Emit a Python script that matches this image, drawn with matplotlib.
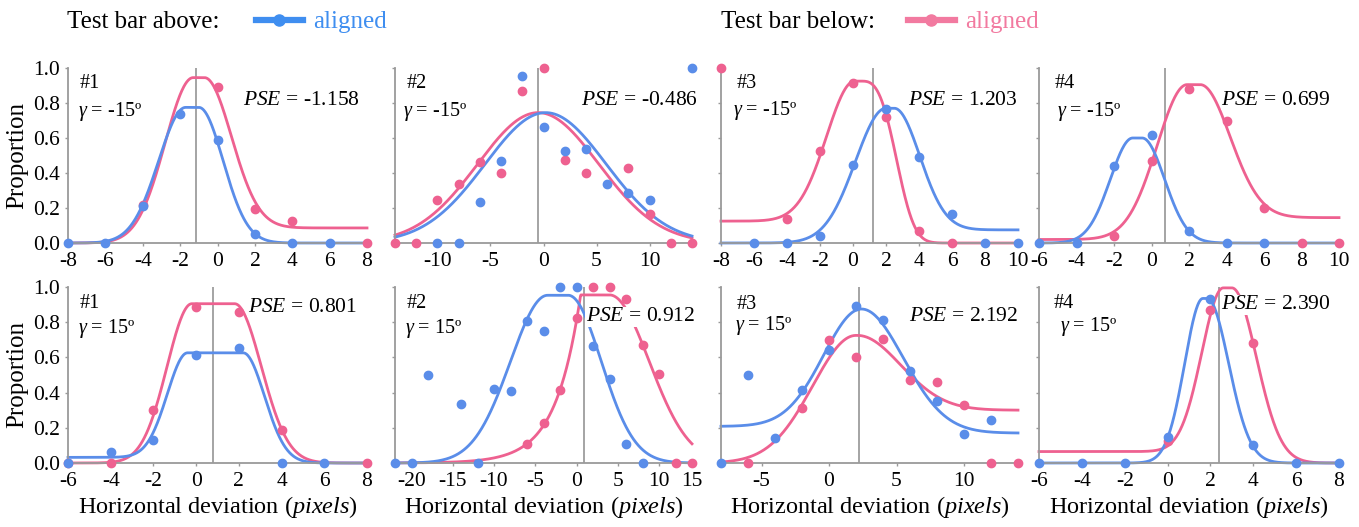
import numpy as np
import matplotlib
matplotlib.use("Agg")
import matplotlib.pyplot as plt
from matplotlib.lines import Line2D

plt.rcParams['font.family'] = ['Liberation Serif', 'DejaVu Serif']
plt.rcParams['mathtext.fontset'] = 'custom'
plt.rcParams['mathtext.rm'] = 'Liberation Serif'
plt.rcParams['mathtext.it'] = 'Liberation Serif:italic'
plt.rcParams['axes.unicode_minus'] = False

nan = np.nan
BLUE = '#5A8DE9'
PINK = '#EE6190'
LEG_BLUE = '#3F8EF0'
LEG_PINK = '#F27AA0'

# ---------------- data ----------------
panel_ids = ['#1', '#2', '#3', '#4', '#1', '#2', '#3', '#4']
gamma_labels = ['-15º'] * 4 + ['15º'] * 4
pse_values = [-1.158, -0.486, 1.203, 0.699, 0.801, 0.912, 2.192, 2.390]

x_t1 = [-8, -6, -4, -2, 0, 2, 4, 6, 8]
blue_t1 = [0, 0, 0.21, 0.74, 0.59, 0.053, 0, 0, nan]
pink_t1 = [nan, nan, 0.215, nan, 0.89, 0.195, 0.128, nan, 0]

x_t2 = [-14, -12, -10, -8, -6, -4, -2, 0, 2, 4, 6, 8, 10, 12, 14]
blue_t2 = [nan, nan, 0, 0, 0.235, 0.468, 0.956, 0.665, 0.526, 0.535, 0.335, 0.283, 0.245, nan, 1.0]
pink_t2 = [0, 0, 0.245, 0.335, 0.463, 0.40, 0.87, 1.0, 0.474, 0.40, nan, 0.43, 0.168, 0, 0]

x_t3 = [-8, -6, -4, -2, 0, 2, 4, 6, 8, 10]
blue_t3 = [nan, 0, 0, 0.042, 0.448, 0.765, 0.494, 0.167, 0, 0]
pink_t3 = [1.0, nan, 0.138, 0.523, 0.913, 0.72, 0.071, 0, nan, nan]

x_t4 = [-6, -4, -2, 0, 2, 4, 6, 8, 10]
blue_t4 = [0, 0, 0.44, 0.615, 0.071, 0, 0, nan, nan]
pink_t4 = [nan, nan, 0.042, 0.471, 0.879, 0.70, 0.20, 0, 0]

x_b1 = [-6, -4, -2, 0, 2, 4, 6, 8]
blue_b1 = [0, 0.062, 0.132, 0.613, 0.655, 0, 0, nan]
pink_b1 = [0, 0, 0.30, 0.887, 0.858, 0.19, nan, 0]

x_b2 = [-22, -20, -18, -16, -14, -12, -10, -8, -6, -4, -2, 0, 2, 4, 6, 8, 10, 12, 14]
blue_b2 = [0, 0, 0.502, nan, 0.337, 0, 0.419, 0.407, 0.807, 0.748, 1.0, 1.0, 0.667, 0.477, 0.106, 0, nan, nan, nan]
pink_b2 = [nan, nan, nan, nan, nan, nan, nan, nan, 0.11, 0.227, 0.413, 0.826, 1.0, 1.0, 0.934, 0.669, 0.504, 0, 0]

x_b3 = [-8, -6, -4, -2, 0, 2, 4, 6, 8, 10, 12, 14]
blue_b3 = [0, 0.498, 0.144, 0.413, 0.644, 0.89, 0.81, 0.523, 0.35, 0.167, 0.246, nan]
pink_b3 = [nan, 0, nan, 0.3125, 0.70, 0.602, 0.706, 0.47, 0.46, 0.331, 0, 0]

x_b4 = [-6, -4, -2, 0, 2, 4, 6, 8]
blue_b4 = [0, 0, 0, 0.148, 0.934, 0.10, 0, 0]
pink_b4 = [nan, nan, nan, 0.125, 0.867, 0.682, nan, nan]

# fitted-curve parameters: (left base, right base, peak, plateau start, plateau end,
#                           left width, right width, left exponent, right exponent)
fit_blue = [
    (0, 0, 0.775, -1.7, -1.0, 1.45, 1.3, 2, 2),
    (0, 0, 0.745, 0.2, 0.2, 5.7, 5.7, 2, 2),
    (0, 0.075, 0.77, 2.0, 2.5, 1.85, 1.55, 2, 2),
    (0, 0, 0.60, -1.0, -0.5, 1.2, 1.2, 2, 2),
    (0.032, 0, 0.626, -0.4, 2.2, 0.95, 1.0, 2, 2),
    (0, 0, 0.953, -3.5, -1.0, 4.5, 4.0, 2, 2),
    (0.208, 0.17, 0.875, 2.4, 2.4, 2.8, 3.1, 2, 2),
    (0, 0, 0.935, 1.65, 1.85, 0.85, 1.0, 2, 2),
]
fit_pink = [
    (0, 0.086, 0.945, -1.3, -0.7, 1.5, 1.45, 2, 2),
    (0, 0, 0.745, -0.5, -0.5, 5.7, 5.7, 2, 2),
    (0.125, 0, 0.925, 0.1, 0.5, 1.7, 1.95, 2, 3),
    (0.02, 0.145, 0.905, 1.9, 2.6, 1.6, 1.6, 2, 2),
    (0, 0, 0.905, -0.2, 1.8, 1.16, 1.25, 2, 2),
    (0, 0, 0.955, 0.5, 4.0, 1.5, 4.8, 1, 2),
    (0, 0.30, 0.725, 2.0, 2.1, 3.2, 3.2, 2, 2),
    (0.065, 0, 0.995, 2.6, 3.0, 1.0, 1.14, 2, 2),
]

xlims = [(-8, 8), (-14, 14), (-8, 10), (-6, 10), (-6, 8), (-22, 14), (-8, 14), (-6, 8)]
xticks = [list(range(-8, 9, 2)), [-10, -5, 0, 5, 10], list(range(-8, 11, 2)), list(range(-6, 11, 2)),
          list(range(-6, 9, 2)), [-20, -15, -10, -5, 0, 5, 10, 14], [-5, 0, 5, 10], list(range(-6, 9, 2))]
xticklabels = [None, None, None, None, None, ['-20', '-15', '-10', '-5', '0', '5', '10', '15'], None, None]

xs = [x_t1, x_t2, x_t3, x_t4, x_b1, x_b2, x_b3, x_b4]
blues = [blue_t1, blue_t2, blue_t3, blue_t4, blue_b1, blue_b2, blue_b3, blue_b4]
pinks = [pink_t1, pink_t2, pink_t3, pink_t4, pink_b1, pink_b2, pink_b3, pink_b4]

# text positions (axes fraction)
id_pos = [(0.04, 0.909), (0.04, 0.909), (0.054, 0.909), (0.053, 0.909),
          (0.04, 0.909), (0.04, 0.909), (0.054, 0.898), (0.05, 0.909)]
gam_pos = [(0.033, 0.749), (0.027, 0.749), (0.04, 0.76), (0.06, 0.749),
           (0.033, 0.767), (0.034, 0.767), (0.047, 0.784), (0.07, 0.773)]
pse_pos = [(0.977, 0.817), (1.02, 0.817), (1.0, 0.817), (0.973, 0.817),
           (0.967, 0.886), (1.01, 0.83), (1.0, 0.83), (0.973, 0.898)]


def fitted_curve(x, L, R, P, c1, c2, s1, s2, p1, p2):
    y = np.full_like(x, P, dtype=float)
    lm = x < c1
    rm = x > c2
    y[lm] = L + (P - L) * np.exp(-0.5 * (np.abs(c1 - x[lm]) / s1) ** p1)
    y[rm] = R + (P - R) * np.exp(-0.5 * (np.abs(x[rm] - c2) / s2) ** p2)
    return y


W, H = 1359, 527
fig = plt.figure(figsize=(W / 100, H / 100), dpi=100)
lefts = [68, 395, 721, 1039]
widths = [299, 297, 297, 300]
rows = [(68, 243), (287, 463)]

GRAY = '#9a9a9a'
for i in range(8):
    r, c = divmod(i, 4)
    y0, y1 = rows[r]
    ax = fig.add_axes([lefts[c] / W, 1 - y1 / H, widths[c] / W, (y1 - y0) / H])
    xmin, xmax = xlims[i]
    ax.set_xlim(xmin, xmax)
    ax.set_ylim(0, 1)
    for s in ['top', 'right']:
        ax.spines[s].set_visible(False)
    for s in ['left', 'bottom']:
        ax.spines[s].set_color(GRAY)
        ax.spines[s].set_linewidth(1.3)
    ax.set_xticks(xticks[i])
    if xticklabels[i] is not None:
        ax.set_xticklabels(xticklabels[i])
    ax.set_yticks([0, 0.2, 0.4, 0.6, 0.8, 1.0])
    if c == 0:
        ax.set_yticklabels(['%.1f' % v for v in [0, 0.2, 0.4, 0.6, 0.8, 1.0]])
        ax.set_ylabel('Proportion', fontsize=18, labelpad=4)
    else:
        ax.set_yticklabels([])
    ax.tick_params(axis='both', length=2.5, width=1, color=GRAY, labelsize=15.5, pad=3)
    ax.tick_params(axis='x', pad=4)

    ax.axvline(pse_values[i], color='#8c8c8c', lw=1.1, zorder=1)

    xx = np.linspace(xmin, xmax, 600)
    ax.plot(xx, fitted_curve(xx, *fit_pink[i]), color=PINK, lw=2.0, zorder=2, clip_on=False)
    ax.plot(xx, fitted_curve(xx, *fit_blue[i]), color=BLUE, lw=2.0, zorder=2, clip_on=False)
    ax.plot(xs[i], pinks[i], 'o', color=PINK, ms=6, zorder=3, clip_on=False, linestyle='none')
    ax.plot(xs[i], blues[i], 'o', color=BLUE, ms=6, zorder=4, clip_on=False, linestyle='none')

    ax.text(*id_pos[i], panel_ids[i], transform=ax.transAxes, fontsize=14.5,
            ha='left', va='center', zorder=6)
    ax.text(*gam_pos[i], r'$\mathit{γ}$ = ' + gamma_labels[i], transform=ax.transAxes,
            fontsize=14.5, ha='left', va='center', zorder=6)
    ax.text(*pse_pos[i], r'$\mathit{PSE}$ = %.3f' % pse_values[i], transform=ax.transAxes,
            fontsize=15.5, ha='right', va='center', zorder=6,
            bbox=dict(facecolor='white', edgecolor='none', pad=0.5))
    if r == 1:
        ax.set_xlabel(r'Horizontal deviation ($\mathit{pixels}$)', fontsize=17.5, labelpad=2)

# legends
ly = 1 - 22 / H
fig.text(67 / W, ly, 'Test bar above:', fontsize=18, ha='left', va='center')
fig.text(721 / W, ly, 'Test bar below:', fontsize=18, ha='left', va='center')
h_blue = Line2D([], [], color=LEG_BLUE, lw=4.5, marker='o', ms=8)
h_pink = Line2D([], [], color=LEG_PINK, lw=4.5, marker='o', ms=8)
fig.legend(handles=[h_blue], labels=['aligned'], loc='center left',
           bbox_to_anchor=(233 / W, ly), frameon=False, fontsize=18,
           labelcolor=LEG_BLUE, handlelength=1.9, handletextpad=0.4)
fig.legend(handles=[h_pink], labels=['aligned'], loc='center left',
           bbox_to_anchor=(885 / W, ly), frameon=False, fontsize=18,
           labelcolor=LEG_PINK, handlelength=1.9, handletextpad=0.4)

fig.savefig('out.png', dpi=100)
